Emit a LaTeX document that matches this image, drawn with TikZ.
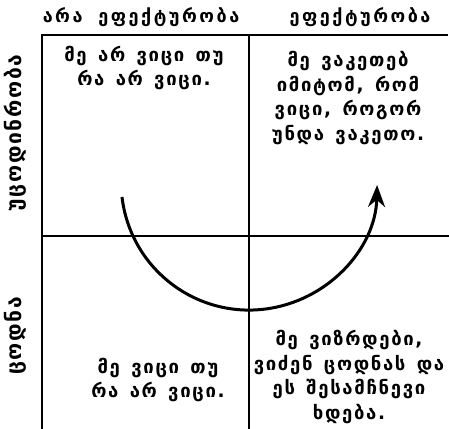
\documentclass[tikz,border=0pt]{standalone}
\usepackage{fontspec}
\setmainfont{DejaVu Sans}
\newfontfamily\geocell{DejaVu Sans Bold}[LetterSpace=9, WordSpace=1.4]
\newfontfamily\geohead{DejaVu Sans Bold}[LetterSpace=14, WordSpace=1.8]
\newfontfamily\geoside{DejaVu Sans Bold}[LetterSpace=8]
\usetikzlibrary{arrows.meta}
\begin{document}
\begin{tikzpicture}[x=1pt,y=-1pt,
  gridline/.style={line width=2.3pt, line cap=rect},
  celltext/.style={align=center, font=\geocell\fontsize{18.5}{24.5}\selectfont, inner sep=0pt},
  headtext/.style={font=\geohead\fontsize{18}{20}\selectfont, inner sep=0pt},
  sidetext/.style={font=\geoside\fontsize{21}{22}\selectfont, inner sep=0pt, rotate=90},
  cyclearrow/.style={line width=3pt, -{Stealth[length=22pt,width=17pt]}}]
\useasboundingbox (0,0) rectangle (449,428);
% grid
\coordinate (ltop) at (42,35);
\coordinate (lbot) at (42,428);
\coordinate (rtop) at (447,35);
\coordinate (mtop) at (249,35);
\coordinate (mbot) at (249,428);
\coordinate (hl) at (42,236);
\coordinate (hr) at (449,236);
\draw[gridline] (lbot) -- (ltop) -- (rtop);
\draw[gridline] (mtop) -- (mbot);
\draw[gridline] (hl) -- (hr);
% headers
\node[headtext] (h1) at (141,17) {არა ეფექტურობა};
\node[headtext] (h2) at (360,17) {ეფექტურობა};
\node[sidetext] (s1) at (15,133) {უცოდინრობა};
\node[sidetext] (s2) at (15,336) {ცოდნა};
% cell texts
\node[celltext] (c1) at (144,68) {მე არ ვიცი თუ\\რა არ ვიცი.};
\node[celltext] (c2) at (348,98) {მე ვაკეთებ\\იმიტომ, რომ\\ვიცი, როგორ\\უნდა ვაკეთო.};
\node[celltext] (c3) at (158,380) {მე ვიცი თუ\\რა არ ვიცი.};
\node[celltext] (c4) at (349,377) {მე ვიზრდები,\\ვიძენ ცოდნას და\\ეს შესამჩნევი\\ხდება.};
% cycle arrow
\coordinate (astart) at (122,197);
\draw[cyclearrow] (astart) arc[start angle=186.7, end angle=358.7, radius=128pt];
\end{tikzpicture}
\end{document}
